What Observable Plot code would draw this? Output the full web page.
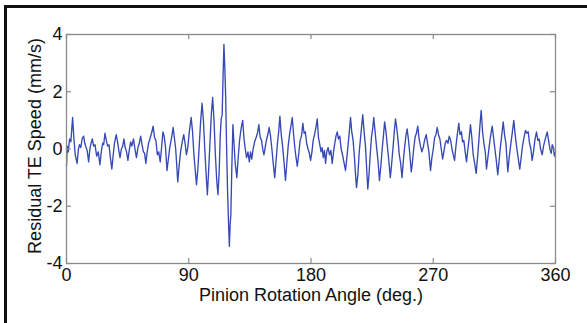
<!DOCTYPE html>
<html>
<head>
<meta charset="utf-8">
<script src="https://cdn.jsdelivr.net/npm/d3@7"></script>
<script src="https://cdn.jsdelivr.net/npm/@observablehq/plot@0.6"></script>
<style>
  html, body { margin: 0; padding: 0; background: #fff; }
  #wrap { position: relative; width: 587px; height: 323px; overflow: hidden; background: #fff; }
  #border { position: absolute; left: 4px; top: 5px; width: 700px; height: 400px;
            border-left: 3px solid #111; border-top: 3px solid #111; pointer-events: none; }
  #chart { position: absolute; left: 0; top: 0; }
</style>
</head>
<body>
<div id="wrap"><div id="chart"></div><div id="border"></div></div>
<script>
// Pinion rotation angle (deg.)
const angle = [
  0, 0.6, 1.3, 2.3, 3.2, 4.5, 5.4, 6.4, 7.8, 8.8, 9.6, 10.5, 11.5, 12.6, 13.5, 14.4, 15.2, 16.3, 17.2, 18.1,
  19.0, 20.0, 21.0, 22.2, 23.4, 24.6, 25.6, 26.6, 27.4, 28.3, 29.3, 30.3, 31.3, 32.3, 33.4, 34.4, 35.3, 36.6, 37.6, 38.5,
  39.4, 40.4, 41.4, 42.3, 43.2, 44.2, 45.2, 46.2, 47.2, 48.1, 49.3, 50.4, 51.5, 52.6, 53.6, 54.6, 55.6, 56.6, 57.5, 58.4,
  59.4, 60.4, 61.4, 62.6, 63.8, 64.8, 65.8, 66.9, 67.9, 69.0, 70.0, 71.0, 71.9, 72.8, 74.0, 75.0, 76.0, 77.2, 78.5, 79.4,
  80.4, 81.9, 82.9, 84.0, 85.0, 86.3, 87.3, 88.3, 89.3, 90.4, 91.8, 92.8, 93.8, 95.7, 96.7, 97.7, 98.8, 99.8, 100.8, 101.8,
  102.8, 103.7, 104.6, 105.6, 106.6, 107.6, 108.6, 109.6, 110.6, 111.5, 112.4, 113.2, 113.9, 114.6, 115.3, 115.9, 116.5, 117.2, 117.8, 118.6,
  119.3, 119.9, 120.5, 121.0, 121.6, 122.5, 123.3, 124.2, 125.4, 126.4, 127.4, 128.5, 129.7, 130.6, 131.6, 132.6, 133.6, 134.6, 135.5, 136.4,
  137.4, 138.5, 139.6, 140.6, 141.6, 142.6, 143.6, 144.6, 145.4, 146.4, 147.4, 148.4, 149.2, 150.2, 151.2, 152.2, 153.3, 154.3, 155.3, 156.2,
  157.1, 158.1, 159.1, 160.2, 161.2, 162.2, 163.2, 164.2, 165.2, 166.2, 167.2, 168.2, 169.0, 169.9, 170.9, 172.0, 173.0, 174.0, 174.9, 175.8,
  176.8, 177.8, 178.8, 179.7, 180.7, 181.6, 182.6, 183.6, 184.6, 185.5, 186.5, 187.4, 188.2, 189.0, 189.9, 190.7, 191.6, 192.6, 193.6, 194.6,
  195.6, 196.6, 197.5, 198.4, 199.3, 200.2, 201.2, 202.2, 203.2, 204.4, 205.4, 206.4, 207.4, 208.2, 209.1, 210.0, 211.0, 212.0, 212.8, 213.5,
  214.5, 215.5, 216.5, 217.3, 218.1, 219.1, 220.1, 221.0, 221.8, 222.7, 223.6, 224.5, 225.4, 226.2, 227.2, 228.2, 229.3, 230.4, 231.4, 232.4,
  233.4, 234.2, 235.2, 236.2, 237.3, 238.4, 239.4, 240.3, 241.3, 242.2, 243.2, 244.1, 245.0, 246.0, 247.0, 248.0, 249.0, 250.0, 250.8, 251.8,
  252.8, 253.8, 254.6, 255.6, 256.6, 257.6, 258.6, 259.6, 260.6, 261.6, 262.6, 263.6, 264.8, 265.8, 266.8, 268.0, 269.0, 270.0, 271.0, 272.0,
  272.9, 273.9, 274.9, 275.9, 276.9, 277.8, 278.8, 279.8, 280.8, 281.8, 282.8, 283.8, 284.7, 285.7, 286.7, 287.7, 288.8, 289.7, 290.7, 291.6,
  292.5, 293.5, 294.5, 295.5, 296.5, 297.4, 298.4, 299.4, 300.5, 301.6, 302.6, 303.6, 304.5, 305.3, 306.3, 307.3, 308.3, 309.2, 310.2, 311.2,
  312.2, 313.4, 314.4, 315.4, 316.4, 317.5, 318.5, 319.5, 320.5, 321.5, 322.5, 323.5, 324.9, 325.9, 326.9, 328.0, 329.3, 330.3, 331.3, 332.5,
  333.7, 334.7, 335.7, 336.8, 337.9, 338.9, 339.9, 340.9, 341.9, 342.8, 343.8, 344.8, 346.0, 347.0, 348.0, 349.0, 350.2, 351.2, 352.2, 353.9,
  354.9, 355.9, 356.8, 357.6, 358.4, 359.2, 360
];
// Residual TE speed (mm/s)
const speed = [
  -0.6, 0.1, -0.1, 0.35, 0.25, 1.1, 0.4, -0.2, -0.5, 0.0, 0.15, 0.05, 0.35, 0.45, 0.2, 0.05, -0.05, -0.45, 0.0, 0.2,
  0.35, 0.1, 0.15, -0.25, -0.1, -0.55, -0.1, 0.2, 0.15, 0.55, 0.3, 0.1, 0.15, -0.3, -0.7, -0.2, 0.2, 0.5, 0.25, -0.05,
  -0.3, 0.0, 0.1, 0.35, 0.05, -0.1, -0.4, -0.05, 0.25, 0.1, 0.35, 0.0, -0.3, 0.05, 0.2, 0.45, 0.15, -0.1, -0.15, -0.5,
  -0.1, 0.2, 0.35, 0.55, 0.8, 0.4, 0.3, -0.2, -0.1, -0.45, 0.05, 0.6, 0.45, 0.1, -0.75, -0.35, 0.05, 0.35, 0.75, 0.4,
  0.0, -1.15, -0.6, -0.1, 0.2, 0.5, 0.2, -0.2, 0.05, 0.6, 1.1, 0.6, -0.2, -1.25, -0.7, 0.1, 1.0, 1.6, 1.0, 0.0,
  -0.9, -1.6, -0.8, 0.2, 1.2, 1.8, 1.0, -0.2, -1.1, -1.6, -0.8, 0.5, 1.05, 1.2, 2.6, 3.65, 2.9, 1.8, 0.2, -1.5,
  -2.6, -3.4, -2.6, -2.3, -0.9, 0.85, 0.2, -0.5, -1.0, -0.3, 0.3, 0.7, 1.0, 0.4, 0.0, -0.3, -0.1, -0.45, -0.1, -0.35,
  0.0, 0.25, 0.4, 0.55, 0.85, 0.4, 0.3, -0.05, -0.2, 0.1, 0.35, 0.55, 0.75, 0.45, 0.0, -0.5, -1.0, -0.4, 0.2, 0.6,
  1.15, 0.5, 0.1, -0.5, -1.1, -0.5, 0.1, 0.5, 0.8, 1.1, 0.5, 0.0, -0.3, -0.6, -0.2, 0.3, 0.45, 0.9, 0.55, 0.6,
  0.2, 0.0, -0.15, -0.4, -0.1, 0.3, 0.5, 0.75, 1.05, 0.4, 0.15, -0.1, 0.05, -0.3, -0.05, -0.5, -0.1, 0.05, -0.2, -0.05,
  -0.5, -0.1, 0.2, 0.45, 0.6, 0.35, 0.45, 0.0, -0.2, -0.5, -0.75, -0.3, 0.2, 0.6, 1.1, 0.6, 0.3, -0.3, -0.9, -1.35,
  -0.9, -0.1, 0.4, 0.8, 1.2, 0.6, 0.1, -0.7, -1.4, -0.9, -0.2, 0.4, 0.7, 1.1, 0.6, 0.1, -0.4, -1.1, -0.6, 0.0,
  0.5, 0.95, 0.6, 0.1, -0.4, -1.0, -0.5, 0.0, 0.6, 1.05, 0.7, 0.3, -0.2, -0.5, -1.0, -0.4, 0.1, 0.5, 0.7, 0.3,
  -0.2, -0.8, -0.5, 0.0, 0.4, 0.55, 0.8, 0.35, 0.1, -0.1, 0.05, 0.3, 0.5, 0.2, -0.1, -0.75, -0.3, 0.0, 0.4, 0.5,
  0.75, 0.5, 0.35, 0.0, -0.35, -0.1, 0.2, 0.3, 0.2, 0.45, 0.3, 0.0, -0.2, -0.4, 0.1, 0.5, 0.9, 0.5, 0.6, 0.25,
  0.3, -0.1, -0.45, 0.0, 0.4, 0.85, 0.4, -0.2, -0.5, -0.85, -0.3, 0.3, 0.9, 1.35, 0.6, 0.2, -0.1, -0.7, -0.3, 0.1,
  0.45, 0.8, 0.4, 0.0, -0.4, -0.9, -0.4, 0.1, 0.5, 0.95, 0.5, 0.2, -0.8, -0.3, 0.1, 0.5, 1.0, 0.5, 0.1, -0.3,
  -0.7, -0.3, 0.1, 0.4, 0.65, 0.55, 0.6, 0.2, 0.0, -0.4, -0.1, 0.3, 0.6, 0.3, 0.35, 0.0, -0.2, 0.1, 0.3, 0.6,
  0.3, 0.0, -0.15, 0.15, 0.05, -0.25, -0.1
];
const xTicks = [0, 90, 180, 270, 360];
const yTicks = [-4, -2, 0, 2, 4];
const xLabel = "Pinion Rotation Angle (deg.)";
const yLabel = "Residual TE Speed (mm/s)";

const data = angle.map((a, i) => ({angle: a, speed: speed[i]}));

const W = 587, H = 323, mL = 66, mR = 32, mT = 34, mB = 60;
const pW = W - mL - mR, pH = H - mT - mB;
const tick = 5, gray = "#8a8a8a";

const chart = Plot.plot({
  width: W, height: H,
  marginLeft: mL, marginRight: mR, marginTop: mT, marginBottom: mB,
  style: {fontFamily: "'Liberation Sans', Arial, sans-serif", fontSize: "18px", color: "#111", background: "transparent"},
  x: {domain: [0, 360]},
  y: {domain: [-4, 4]},
  axis: null,
  marks: [
    Plot.line(data, {x: "angle", y: "speed", stroke: "#3649b6", strokeWidth: 1.35, strokeLinejoin: "round"}),
    Plot.frame({stroke: gray, strokeWidth: 1.3}),
    Plot.tickX(xTicks, {x: d => d, insetTop: pH - tick, stroke: gray, strokeWidth: 1.2}),
    Plot.tickX(xTicks, {x: d => d, insetBottom: pH - tick, stroke: gray, strokeWidth: 1.2}),
    Plot.tickY(yTicks, {y: d => d, insetRight: pW - tick, stroke: gray, strokeWidth: 1.2}),
    Plot.tickY(yTicks, {y: d => d, insetLeft: pW - tick, stroke: gray, strokeWidth: 1.2}),
    Plot.axisX({ticks: xTicks, tickSize: 0, tickPadding: 5, label: null, fontSize: 18, tickFormat: d => String(d)}),
    Plot.axisY({ticks: yTicks, tickSize: 0, tickPadding: 4, label: null, fontSize: 18, tickFormat: d => String(d)}),
    Plot.text([xLabel], {frameAnchor: "bottom", dy: 25, text: d => d, fontSize: 18, lineAnchor: "top", textAnchor: "middle", fill: "#111"}),
    Plot.text([yLabel], {frameAnchor: "left", dx: -31, dy: -3, rotate: -90, text: d => d, fontSize: 18, textAnchor: "middle", lineAnchor: "middle", fill: "#111"})
  ]
});
document.getElementById("chart").appendChild(chart);
</script>
</body>
</html>
